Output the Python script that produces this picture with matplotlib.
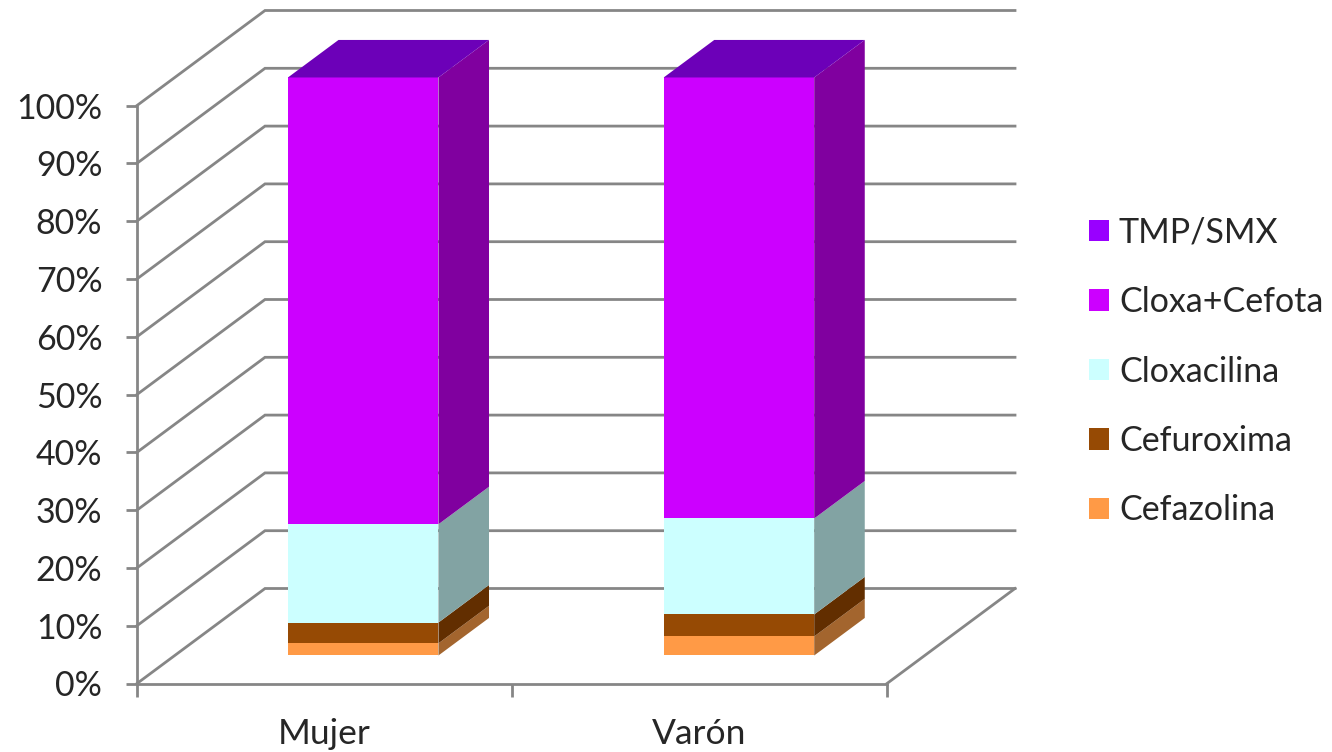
import matplotlib
matplotlib.use("Agg")
import matplotlib.pyplot as plt
from matplotlib.patches import Patch
import numpy as np

categories = ["Mujer", "Varón"]
series = ["Cefazolina", "Cefuroxima", "Cloxacilina", "Cloxa+Cefota", "TMP/SMX"]
cefazolina = [2.1, 3.3]
cefuroxima = [3.6, 3.8]
cloxacilina = [17.0, 16.6]
cloxa_cefota = [77.3, 76.3]
tmp_smx = [0.0, 0.0]
values = [cefazolina, cefuroxima, cloxacilina, cloxa_cefota, tmp_smx]

front_cols = ["#FF9A46", "#964A04", "#CCFFFF", "#CC00FF", "#9900FF"]
side_cols = ["#A3652E", "#622E00", "#82A3A3", "#80009F", "#6A00B8"]
top_col = "#6C00B8"
line_col = "#868686"

plt.rcParams["font.family"] = ["Lato", "DejaVu Sans"]

W, H = 1332, 752
# one category = 375 px, 100% = 578 px
px_x, px_y = 375.0, 5.78
x0_px, y0_px = 137.0, 683.5
depth_x, depth_y = 128.0 / px_x, 95.0 / px_y  # shift for the whole floor depth

fig = plt.figure(figsize=(W / 100, H / 100), dpi=100)
ax = fig.add_axes([0, 0, 1, 1])
ax.set_xlim(-x0_px / px_x, (W - x0_px) / px_x)
ax.set_ylim(-(H - y0_px) / px_y, y0_px / px_y)
ax.patch.set_alpha(0)


def proj(cat, pct, d):
    return cat + d * depth_x, pct + d * depth_y


# walls and floor
lw = 2.0
for pct in range(0, 101, 10):
    a = proj(0, pct, 0)
    b = proj(0, pct, 1)
    c = proj(2, pct, 1)
    ax.plot([a[0], b[0], c[0]], [a[1], b[1], c[1]], color=line_col, lw=lw, zorder=1, solid_joinstyle="miter")
a = proj(2, 0, 0)
b = proj(2, 0, 1)
ax.plot([a[0], b[0]], [a[1], b[1]], color=line_col, lw=lw, zorder=1)

# bars
d_front, d_back = 0.295, 0.69
width = 150.5 / px_x
centers = np.array([0.5, 1.5])
bar_x = [0.5025, 1.5045]
for i, cat in enumerate(categories):
    bottom = 0.0
    xc, yc = proj(bar_x[i], bottom, d_front)
    xl, xr = xc - width / 2, xc + width / 2
    for j, name in enumerate(series):
        val = values[j][i]
        if val > 0:
            ax.bar(xc, val, width=width, bottom=yc + bottom, color=front_cols[j], lw=0, zorder=3)
            sx = [xr, xr + (d_back - d_front) * depth_x, xr + (d_back - d_front) * depth_x, xr]
            sy = [yc + bottom, yc + bottom + (d_back - d_front) * depth_y,
                  yc + bottom + val + (d_back - d_front) * depth_y, yc + bottom + val]
            ax.fill(sx, sy, color=side_cols[j], lw=0, zorder=3)
        bottom += val
    dx = (d_back - d_front) * depth_x
    dy = (d_back - d_front) * depth_y
    ax.fill([xl, xr, xr + dx, xl + dx], [yc + bottom, yc + bottom, yc + bottom + dy, yc + bottom + dy],
            color=top_col, lw=0, zorder=3)

# axes
for s in ["top", "right"]:
    ax.spines[s].set_visible(False)
ax.spines["left"].set_position(("data", 0))
ax.spines["bottom"].set_position(("data", 0))
ax.spines["left"].set_bounds(0, 100)
ax.spines["bottom"].set_bounds(0, 2)
ax.spines["left"].set_color(line_col)
ax.spines["bottom"].set_color(line_col)
ax.spines["left"].set_linewidth(lw)
ax.spines["bottom"].set_linewidth(lw)
ax.spines["left"].set_zorder(2)
ax.spines["bottom"].set_zorder(2)

ax.set_yticks(range(0, 101, 10))
ax.set_yticklabels([f"{p}%" for p in range(0, 101, 10)])
ax.set_xticks([0, 1, 2])
ax.set_xticklabels([])
ax.set_xticks(centers, minor=True)
ax.set_xticklabels(categories, minor=True)
ax.tick_params(axis="y", length=8, width=lw, color=line_col, labelsize=24.5, labelcolor="#262626", pad=17)
ax.tick_params(axis="x", which="major", length=9.5, width=lw, color=line_col)
ax.tick_params(axis="x", which="minor", length=0, labelsize=25.5, labelcolor="#262626", pad=25)

handles = [Patch(facecolor=front_cols[j], lw=0, label=series[j]) for j in range(4, -1, -1)]
ax.legend(handles=handles, loc="center left", bbox_to_anchor=(1089 / W, 1 - 371.5 / H), frameon=False,
          fontsize=24.5, labelcolor="#262626", handlelength=0.59, handleheight=0.59, handletextpad=0.29,
          labelspacing=1.10, borderpad=0, borderaxespad=0)

fig.savefig("out.png", dpi=100, facecolor="white")
